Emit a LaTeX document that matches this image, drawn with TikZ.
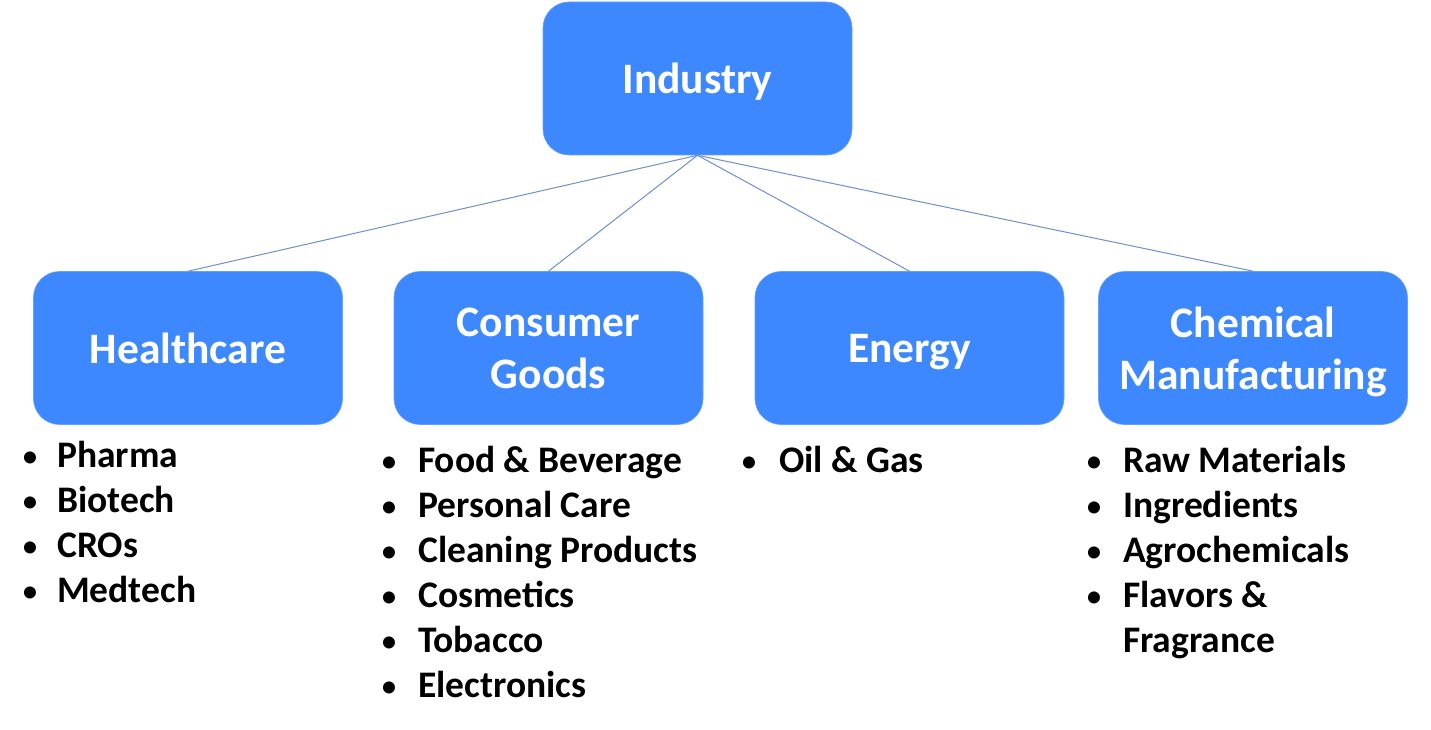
\documentclass[tikz,border=0pt]{standalone}
\usepackage{fontspec}
\setmainfont{Carlito}
\definecolor{boxblue}{HTML}{3D88FF}
\definecolor{linkblue}{HTML}{6F8FCC}
\begin{document}
\begin{tikzpicture}[x=1pt,y=-1pt,
  catbox/.style={fill=boxblue, draw=boxblue!80!white, line width=0.6pt, rounded corners=26pt,
    minimum width=309pt, minimum height=153pt, inner sep=0pt, text=white, text depth=0pt,
    font=\fontsize{43.5}{52}\selectfont\bfseries, align=center},
  conn/.style={draw=linkblue, line width=1pt},
  bul/.style={anchor=base, inner sep=0pt, font=\fontsize{34}{45}\selectfont},
  itm/.style={anchor=base west, inner sep=0pt, font=\fontsize{37.5}{45}\selectfont\bfseries}]
\useasboundingbox (0,0) rectangle (1431,730);
\fill[white] (0,0) rectangle (1431,730);

\node[catbox] (ind) at (697.5,78.5) {Industry};
\node[catbox] (hc) at (188,348) {Healthcare};
\node[catbox] (cg) at (548.5,348) {Consumer\\Goods};
\node[catbox] (en) at (909.5,348) {Energy};
\node[catbox] (cm) at (1253,348) {Chemical\\Manufacturing};

\draw[conn] (ind.south) -- (hc.north);
\draw[conn] (ind.south) -- (cg.north);
\draw[conn] (ind.south) -- (en.north);
\draw[conn] (ind.south) -- (cm.north);

% Healthcare list
\foreach \t [count=\i] in {Pharma, Biotech, CROs, Medtech}{
  \node[bul] (hcb\i) at (30,{467+45*(\i-1)}) {•};
  \node[itm] (hct\i) at (57,{467+45*(\i-1)}) {\t};
}
% Consumer goods list
\foreach \t [count=\i] in {Food \& Beverage, Personal Care, Cleaning Products, Cosmetics, Tobacco, Electronics}{
  \node[bul] (cgb\i) at (389,{472+45*(\i-1)}) {•};
  \node[itm] (cgt\i) at (418,{472+45*(\i-1)}) {\t};
}
% Energy list
\node[bul] (enb1) at (749,472) {•};
\node[itm] (ent1) at (779,472) {Oil \& Gas};
% Chemical list
\foreach \t [count=\i] in {Raw Materials, Ingredients, Agrochemicals, Flavors \&}{
  \node[bul] (cmb\i) at (1094,{472+45*(\i-1)}) {•};
  \node[itm] (cmt\i) at (1123,{472+45*(\i-1)}) {\t};
}
\node[itm] (cmt5) at (1123,652) {Fragrance};
\end{tikzpicture}
\end{document}
